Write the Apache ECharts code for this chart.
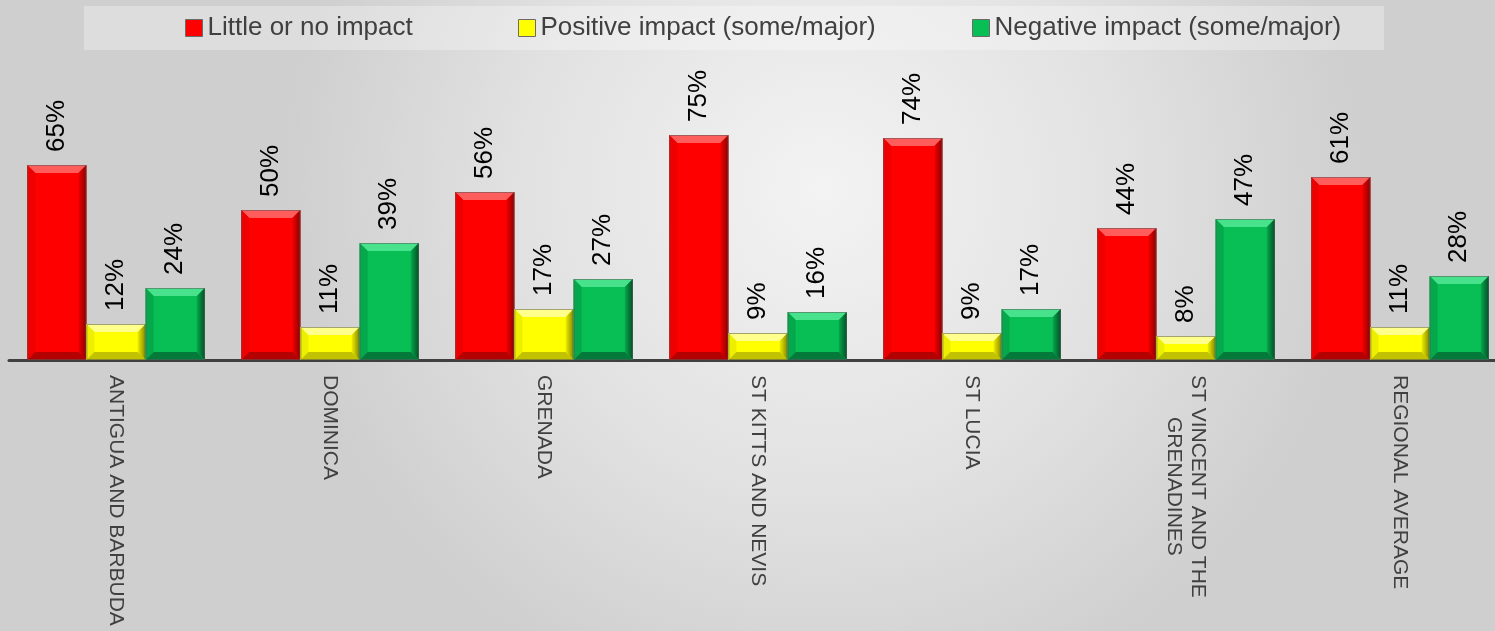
<!DOCTYPE html>
<html>
<head>
<meta charset="utf-8">
<script src="https://cdn.jsdelivr.net/npm/echarts@6/dist/echarts.min.js"></script>
<style>
html,body{margin:0;padding:0;}
#chart{width:1495px;height:631px;}
</style>
</head>
<body>
<div id="chart"></div>
<script>
const categories = ['ANTIGUA AND BARBUDA','DOMINICA','GRENADA','ST KITTS AND NEVIS','ST LUCIA','ST VINCENT AND THE\nGRENADINES','REGIONAL AVERAGE'];
const seriesNames = ['Little or no impact','Positive impact (some/major)','Negative impact (some/major)'];
const littleImpact = [65,50,56,75,74,44,61];
const positiveImpact = [12,11,17,9,9,8,11];
const negativeImpact = [24,39,27,16,17,47,28];

const palettes = [
  {face:'#ff0000', top:'#ff5c5c', left:'#ee0000', right:'#8e0000', bottom:'#b40000'},
  {face:'#ffff00', top:'#ffff8c', left:'#eeee00', right:'#858500', bottom:'#c2c200'},
  {face:'#07bf55', top:'#48e28c', left:'#05a84a', right:'#034f27', bottom:'#047a3a'}
];
const values = [littleImpact, positiveImpact, negativeImpact];
const GAP = 0.17;
const FONT = '"Liberation Sans", Arial, sans-serif';

function makeRender(si){
  const p = palettes[si];
  return function(params, api){
    const ci = api.value(0), v = api.value(1);
    const topPt = api.coord([ci, v]);
    const basePt = api.coord([ci, 0]);
    const band = api.size([1, 0])[0];
    const w = band * (1 - GAP) / 3;
    const x0 = topPt[0] - 1.5 * w + si * w;
    const y0 = topPt[1];
    const h = basePt[1] - topPt[1];
    const b = Math.max(0, Math.min(8, h / 2, w / 2));
    const x1 = x0 + w, y1 = y0 + h;
    return {
      type:'group',
      children:[
        {type:'rect', shape:{x:x0, y:y0, width:w, height:h}, style:{fill:p.face}},
        {type:'polygon', shape:{points:[[x0,y0],[x1,y0],[x1-b,y0+b],[x0+b,y0+b]]}, style:{fill:p.top}},
        {type:'polygon', shape:{points:[[x0,y0],[x0+b,y0+b],[x0+b,y1-b],[x0,y1]]}, style:{fill:p.left}},
        {type:'polygon', shape:{points:[[x1,y0],[x1,y1],[x1-b,y1-b],[x1-b,y0+b]]},
          style:{fill:new echarts.graphic.LinearGradient(0,0,1,0,[{offset:0,color:p.left},{offset:1,color:p.right}])}},
        {type:'polygon', shape:{points:[[x0,y1],[x0+b,y1-b],[x1-b,y1-b],[x1,y1]]}, style:{fill:p.bottom}},
        {type:'rect', shape:{x:x0+0.5, y:y0+0.5, width:w-1, height:h-1}, style:{fill:null, stroke:'rgba(90,90,90,0.55)', lineWidth:1}},
        {type:'text', x:x0 + w/2, y:y0 - 13, rotation:Math.PI/2,
          style:{text:v + '%', fontSize:26, fontFamily:FONT, fill:'#000',
            align:'left', verticalAlign:'middle', textAlign:'left', textVerticalAlign:'middle'}}
      ]
    };
  };
}

const chart = echarts.init(document.getElementById('chart'));
const legendLefts = [185, 518, 972];
chart.setOption({
  backgroundColor: new echarts.graphic.RadialGradient(0.55,0.3,0.85,[
    {offset:0,color:'#f3f3f3'},{offset:0.55,color:'#e2e2e2'},{offset:1,color:'#cfcfcf'}
  ]),
  animation:false,
  graphic:[{type:'rect', left:84, top:6, shape:{width:1300,height:44}, style:{fill:'rgba(255,255,255,0.3)'}, z:-1}],
  legend: seriesNames.map((n,i)=>({
    data:[n], left:legendLefts[i], top:15, padding:0, itemWidth:17, itemHeight:17, icon:'rect',
    itemStyle:{borderColor:'#6a6a6a', borderWidth:1},
    textStyle:{fontFamily:FONT, fontSize:26, color:'#404040', lineHeight:26}
  })),
  grid:{left:9, width:1498, top:60, height:300, containLabel:false, outerBoundsMode:'none'},
  xAxis:{
    type:'category', data:categories,
    axisLine:{lineStyle:{color:'#404040', width:3}},
    axisTick:{show:false},
    axisLabel:{
      rotate:-90, margin:15, interval:0, color:'#404040',
      fontFamily:FONT, fontSize:21, lineHeight:24,
      formatter: v => v.split('\n').map(s=>'{c|'+s+'}').join('\n'),
      rich:{c:{align:'center', fontFamily:FONT, fontSize:21, lineHeight:24, color:'#404040'}}
    }
  },
  yAxis:{type:'value', min:0, max:100, show:false, splitLine:{show:false}},
  series: seriesNames.map((n,i)=>({
    name:n, type:'custom', renderItem:makeRender(i),
    encode:{x:0, y:1},
    itemStyle:{color:palettes[i].face},
    data: values[i].map((v,ci)=>[ci, v])
  }))
});
</script>
</body>
</html>
